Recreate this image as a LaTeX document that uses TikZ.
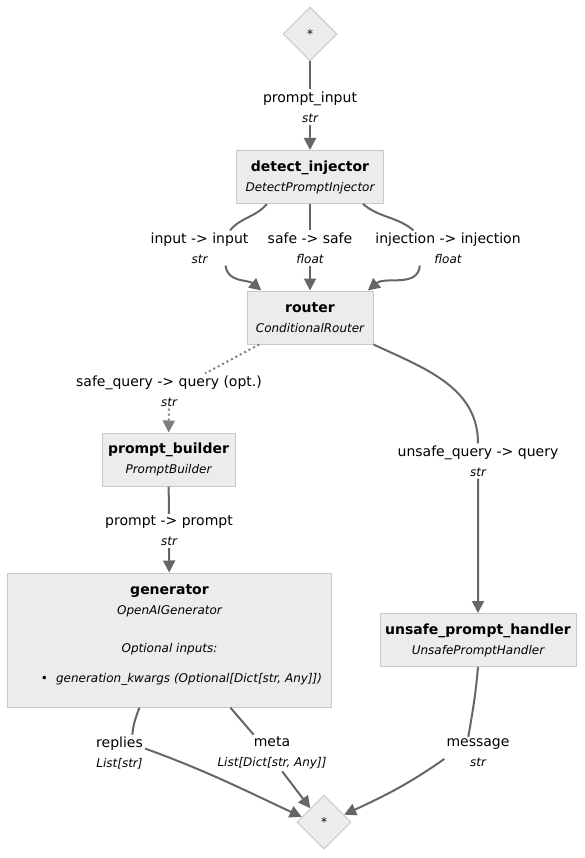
\documentclass[tikz,border=0pt]{standalone}
\usepackage{fontspec}
\setmainfont{DejaVu Sans}
\usetikzlibrary{arrows.meta,shapes.geometric}

\definecolor{boxfill}{HTML}{ECECEC}
\definecolor{boxline}{HTML}{C8C8C8}
\definecolor{wire}{HTML}{666666}

\newcommand{\typefont}{\fontsize{12}{14}\selectfont\itshape}
\newcommand{\comp}[2]{\textbf{#1}\\{\typefont #2}}
\newcommand{\port}[2]{#1\\{\typefont #2}}

\begin{document}
\begin{tikzpicture}[x=1pt,y=-1pt,font=\fontsize{14}{20}\selectfont,
		>={Triangle[length=12pt,width=12pt]},
		flow/.style={draw=wire,line width=2pt,->},
		optflow/.style={flow,draw=wire!85,dash pattern=on 2pt off 3pt}]
	\useasboundingbox (0,0) rectangle (584,858);
	% components
	\begin{scope}[every node/.style={draw=boxline,fill=boxfill,line width=1pt,align=center,inner sep=0pt}]
		\node[diamond,minimum size=54pt,font=\fontsize{12}{14}\selectfont] (start) at (310,34) {*};
		\node[minimum width=147pt,minimum height=53pt] (detect) at (310,177) {\comp{detect\_injector}{DetectPromptInjector}};
		\node[minimum width=126pt,minimum height=53pt] (router) at (310,317.5) {\comp{router}{ConditionalRouter}};
		\node[minimum width=133pt,minimum height=53pt] (builder) at (168.5,459.5) {\comp{prompt\_builder}{PromptBuilder}};
		\node[minimum width=324pt,minimum height=134pt,text depth=12pt] (gen) at (169.5,640)
			{\comp{generator}{OpenAIGenerator}\\[18pt]
			{\typefont Optional inputs:}\\[10pt]
			{\typefont\hspace*{24pt}\textbullet\hspace{8pt}generation\_kwargs (Optional[Dict[str, Any]])}};
		\node[minimum width=196pt,minimum height=53pt] (handler) at (478,640) {\comp{unsafe\_prompt\_handler}{UnsafePromptHandler}};
		\node[diamond,minimum size=54pt,font=\fontsize{12}{14}\selectfont] (end) at (324,822) {*};
	\end{scope}
	% connection labels
	\begin{scope}[every node/.style={align=center,inner sep=2pt}]
		\node (lpi) at (310,107) {\port{prompt\_input}{str}};
		\node (lii) at (199.5,248) {\port{input -> input}{str}};
		\node (lss) at (310,248) {\port{safe -> safe}{float}};
		\node (lij) at (448,248) {\port{injection -> injection}{float}};
		\node (lsq) at (169,391) {\port{safe\_query -> query (opt.)}{str}};
		\node (luq) at (478,461) {\port{unsafe\_query -> query}{str}};
		\node (lpp) at (169,531) {\port{prompt -> prompt}{str}};
		\node (lrep) at (119.5,753) {\port{replies}{List[str]}};
		\node (lmeta) at (272,753) {\port{meta}{List[Dict[str, Any]]}};
		\node (lmsg) at (478,753) {\port{message}{str}};
	\end{scope}
	% connections
	\draw[flow] (start) -- (lpi) -- (detect);
	\draw[flow] (detect) -- (lss) -- (router);
	\draw[flow] (detect.212) to[out=-130,in=50] (lii.30) (lii.-34) to[out=-85,in=140] (router.151);
	\draw[flow] (detect.333) to[out=-40,in=140] (lij.153) (lij.-148) to[out=-95,in=40] (router.25);
	\draw[optflow] (router.208) to[out=-152,in=28] (lsq.26) (lsq) -- (builder);
	\draw[flow] (router.south east) to[out=-25,in=90] (luq) -- (handler);
	\draw[flow] (builder) -- (lpp) -- (gen);
	\draw[flow] (gen.246) to[out=-110,in=85] (lrep.55) (lrep.10) to[out=-20,in=155] (end.167);
	\draw[flow] (gen.-48) -- (lmeta.135) (lmeta.-61) -- (end.135);
	\draw[flow] (handler.south) to[out=-95,in=80] (lmsg.121) (lmsg.190) to[out=-145,in=25] (end.20);
\end{tikzpicture}
\end{document}
